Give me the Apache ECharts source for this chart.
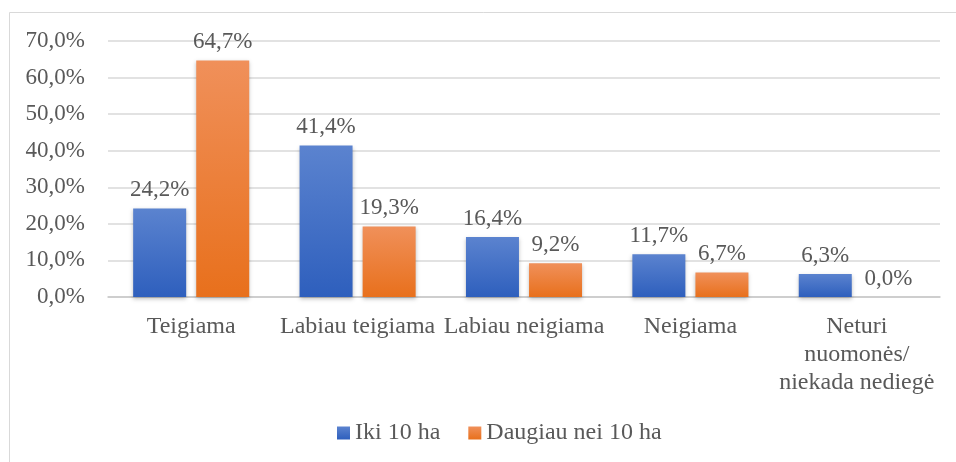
<!DOCTYPE html>
<html>
<head>
<meta charset="utf-8">
<script src="https://cdn.jsdelivr.net/npm/echarts@6/dist/echarts.min.js"></script>
<style>
  html, body { margin: 0; padding: 0; background: #fff; }
  #chart { width: 956px; height: 462px; }
</style>
</head>
<body>
<div id="chart"></div>
<script>
var categories = [
    'Teigiama',
    'Labiau teigiama',
    'Labiau neigiama',
    'Neigiama',
    'Neturi\nnuomonės/\nniekada nediegė'
];
var seriesNames = ['Iki 10 ha', 'Daugiau nei 10 ha'];
var small = [24.2, 41.4, 16.4, 11.7, 6.3];
var large = [64.7, 19.3, 9.2, 6.7, 0.0];

var FONT = '"Liberation Serif", "Times New Roman", serif';
var TXT = '#595959';
var FS = 23;

var fmt = function(v) {
    return v.toFixed(1).replace('.', ',') + '%';
};

var grad = function(top, bottom) {
    return new echarts.graphic.LinearGradient(0, 0, 0, 1, [
        { offset: 0, color: top },
        { offset: 1, color: bottom }
    ]);
};

var makeSeries = function(name, data, top, bottom) {
    return {
        name: name,
        type: 'bar',
        data: data,
        barWidth: 53,
        barGap: '19%',
        itemStyle: {
            color: grad(top, bottom),
            shadowColor: 'rgba(0,0,0,0.25)',
            shadowBlur: 4,
            shadowOffsetY: 2
        },
        label: {
            show: true,
            position: 'top',
            distance: 7,
            fontFamily: FONT,
            fontSize: FS,
            color: TXT,
            formatter: function(p) { return fmt(p.value); }
        }
    };
};

var chart = echarts.init(document.getElementById('chart'));
chart.setOption({
    animation: false,
    backgroundColor: '#fff',
    graphic: [{
        type: 'rect',
        shape: { x: 9.5, y: 12.5, width: 960, height: 470 },
        style: { fill: 'none', stroke: '#d9d9d9', lineWidth: 1 },
        silent: true
    }],
    grid: { left: 108, right: 16, top: 41, bottom: 165 },
    legend: {
        bottom: 12,
        left: 332,
        itemWidth: 13,
        itemHeight: 13,
        itemGap: 28,
        icon: 'rect',
        textStyle: { fontFamily: FONT, fontSize: 24, color: TXT },
        data: [
            { name: seriesNames[0], itemStyle: { color: grad('#5b83cf', '#2e5fbd') } },
            { name: seriesNames[1], itemStyle: { color: grad('#f0905a', '#e8701c') } }
        ]
    },
    xAxis: {
        type: 'category',
        data: categories,
        axisTick: { show: false },
        axisLine: { lineStyle: { color: '#c8c8c8', width: 1.5 } },
        axisLabel: {
            interval: 0,
            margin: 16,
            fontFamily: FONT,
            fontSize: 24,
            lineHeight: 28,
            color: TXT
        }
    },
    yAxis: {
        type: 'value',
        min: 0,
        max: 70,
        interval: 10,
        axisLine: { show: false },
        axisTick: { show: false },
        splitLine: { lineStyle: { color: '#d9d9d9', width: 1.5 } },
        axisLabel: {
            margin: 23,
            fontFamily: FONT,
            fontSize: FS,
            color: TXT,
            formatter: function(v) { return fmt(v); }
        }
    },
    series: [
        makeSeries(seriesNames[0], small, '#5b83cf', '#2e5fbd'),
        makeSeries(seriesNames[1], large, '#f0905a', '#e8701c')
    ]
});
</script>
</body>
</html>
